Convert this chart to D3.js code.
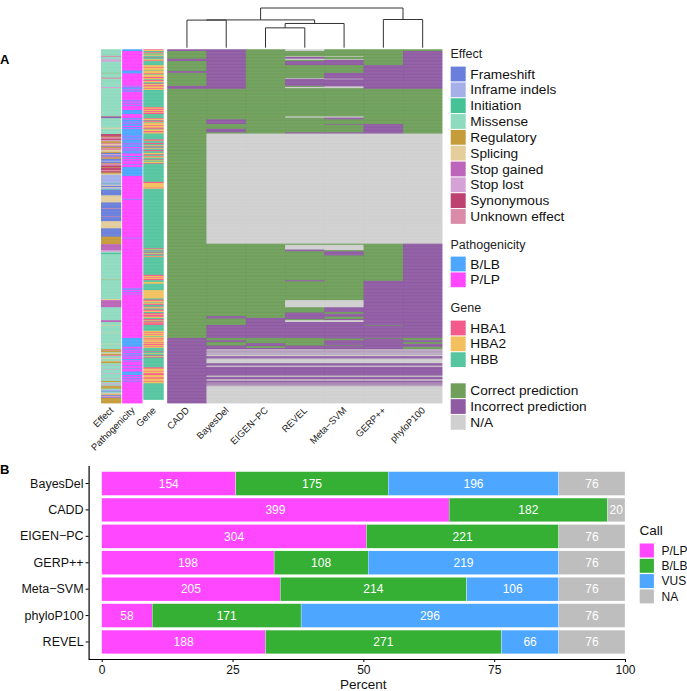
<!DOCTYPE html>
<html>
<head>
<meta charset="utf-8">
<script src="https://cdn.jsdelivr.net/npm/d3@7"></script>
<style>
  html, body { margin: 0; padding: 0; background: #fff; }
  svg { display: block; font-family: "Liberation Sans", Arial, sans-serif; }
  .axis path, .axis line { stroke: #000; }
</style>
</head>
<body>
<svg width="687" height="691"></svg>
<script>
// Panel A: values per column as flat run lists: code, number of rows, code, number of rows...
const totalRows = 601;

const annotationNames = ["Effect", "Pathogenicity", "Gene"];
const toolNames = ["CADD", "BayesDel", "EIGEN\u2212PC", "REVEL", "Meta\u2212SVM", "GERP++", "phyloP100"];

const effectRuns = [
  "M",11,"U",2,"M",4,"L",4,"M",19,"T",1,"S",1,"M",6,"U",2,"M",14,"L",2,"M",48,"Y",1,"F",1,"Y",1,"M",16,"S",2,"M",9,
  "Y",4,"R",1,"U",3,"Y",2,"L",2,"R",3,"U",2,"S",2,"U",2,"F",1,"R",2,"U",3,"S",3,"R",2,"F",2,"L",2,"F",2,"U",2,"R",2,
  "F",3,"I",2,"F",2,"R",1,"U",3,"G",1,"Y",2,"R",1,"Y",4,"U",2,"Y",2,"R",2,"S",2,"I",3,
  "I",12,"T",1,"I",2,"S",1,"F",2,"S",1,"I",3,"T",1,"F",9,"S",12,"F",10,"U",1,"F",12,"U",1,"F",8,"S",12,"F",14,"R",13,
  "G",10,"L",3,"M",2,"T",2,"M",42,"S",1,"T",1,"M",32,"S",2,"G",12,"M",22,"G",3,"M",5,"S",1,"M",12,"S",1,"M",18,"S",1,"M",8,
  "R",2,"U",1,"R",2,"M",1,"S",2,"R",2,"U",2,"M",3,"S",2,"M",3,"S",1,"R",3,"M",4,"L",1,"M",5,"L",1,"M",6,"L",1,"M",8,"L",1,
  "M",3,"R",2,"M",2,"L",2,"M",2,"U",1,"R",4,"M",2,"I",2,"F",1,"M",2,"I",1,"S",2,"R",1,"F",1,"I",1,"U",2,"F",1,"R",9
];
const pathogenicityRuns = [
  "B",3,"P",33,"B",5,"P",21,"B",1,"P",1,"B",1,"P",1,"B",2,"P",1,"B",1,"P",1,"B",1,"P",2,"P",12,"B",1,"P",2,"B",1,"P",2,"B",1,"P",2,"B",1,"P",1,
  "P",6,"B",7,"P",7,"B",2,"P",1,"B",3,"P",1,"B",2,"P",1,"B",3,"P",2,"B",2,"P",1,"B",2,"B",10,"P",1,"B",4,"P",1,"B",6,
  "P",1,"B",2,"P",1,"B",3,"P",2,"B",1,"P",1,"B",2,"P",1,"B",3,"P",1,"B",1,"P",3,"B",2,"P",2,"B",1,"P",3,"B",1,"P",5,"B",1,"P",4,
  "B",15,"P",39,"B",1,"P",65,"B",1,"P",85,"B",2,"P",3,"B",1,"P",3,"B",1,"P",1,"P",73,"B",15,"P",3,"B",2,"P",2,"B",1,"P",3,"B",2,
  "P",1,"B",1,"P",2,"B",1,"P",3,"B",2,"P",2,"B",1,"P",3,"P",2,"B",1,"P",4,"B",1,"P",5,"B",6,"P",2,"B",1,"P",2,"B",1,"P",2,"B",1,"P",2,"B",1,"P",36
];
const geneRuns = [
  "A",1,"C",2,"B",2,"A",1,"C",1,"B",2,"C",2,"B",3,"A",1,"B",2,"C",2,"A",1,"B",7,"C",3,"A",1,"C",4,"B",1,"C",5,"A",1,"B",1,"C",4,"A",2,"C",2,"B",1,"A",2,"C",2,
  "B",2,"A",1,"C",2,"A",2,"C",3,"A",1,"C",2,"B",29,"A",1,"C",2,"A",2,"C",2,"A",2,"C",1,"A",2,"B",7,"A",1,"C",2,"B",1,"A",2,"C",1,"B",1,"C",4,"A",1,"C",3,"A",2,"B",1,"C",3,"A",2,"C",2,
  "B",10,"A",2,"C",1,"B",3,"A",2,"B",2,"C",1,"A",1,"B",2,"A",1,"C",1,"B",2,"A",2,"B",3,"C",2,"A",1,"B",2,"A",1,"C",2,"B",3,"A",1,"C",1,"B",2,"C",2,"A",1,"B",1,
  "B",30,"A",2,"C",8,"A",1,"C",1,"B",101,"A",1,"C",1,"B",2,"A",1,"B",2,"A",1,"C",1,"B",1,"A",1,"B",2,"C",1,"A",1,"B",2,"B",28,"A",2,"C",2,"A",1,"C",2,"A",2,"B",3,"C",3,"B",2,
  "B",9,"C",14,"B",2,"A",2,"C",2,"B",1,"C",2,"A",2,"B",3,"A",1,"C",2,"B",2,"A",2,"C",2,"B",2,"A",2,"C",1,"A",3,"C",2,"B",2,"A",2,"C",1,"B",1,"A",2,"C",1,"A",3,
  "B",10,"C",2,"A",1,"C",3,"A",1,"C",2,"B",1,"C",2,"A",1,"C",2,"A",1,"C",3,"A",1,"C",2,"A",2,"C",2,"A",1,"C",2,"B",6,"A",1,"B",2,"C",1,"B",2,"A",1,"B",1,"C",1,"B",1,"A",1,
  "B",16,"A",2,"C",4,"A",1,"C",3,"A",3,"C",4,"A",2,"C",4,"A",1,"C",3,"B",28
];

// Shared stripes at the bottom of the tool columns, G correct, W incorrect, N missing
const tailRuns = [
  "N",1,"W",1,"N",1,"W",1,"N",2,"W",1,"N",1,"W",1,"N",2,"N",1,"W",1,"W",2,"N",1,"W",1,"N",1,"N",6,"W",4,"N",2,"W",15,"N",2,"W",4,
  "N",1,"W",1,"N",1,"W",3,"N",1,"W",1,"N",1,"W",1,"N",1,"W",1,"N",29
];
const caddRuns = ["W",3,"G",13,"W",4,"G",17,"W",3,"G",22,"W",5,"G",423,"W",111];
const bayesDelRuns = ["W",67,"G",52,"W",8,"G",8,"W",6,"G",2,"N",187,"G",123,"W",4,"G",11,"W",22,"G",4,"W",3,"G",6,"W",6, ...tailRuns];
const eigenRuns = ["G",143,"N",187,"G",126,"W",34,"G",9,"W",5,"G",3,"W",2, ...tailRuns];
const revelRuns = [
  "N",3,"G",9,"N",1,"W",3,"N",2,"G",2,"W",7,"G",22,"N",1,"W",12,"G",2,"N",2,"G",48,"N",2,"G",25,"W",2,"N",187,
  "G",2,"N",8,"W",3,"G",49,"W",2,"G",32,"N",12,"G",9,"W",11,"G",2,"N",3,"W",27,"G",13,"W",6, ...tailRuns
];
const metaRuns = [
  "G",12,"N",1,"G",4,"N",1,"W",9,"G",13,"W",10,"N",1,"W",12,"N",3,"G",48,"N",2,"W",3,"G",8,"W",1,"G",13,"W",2,"N",187,
  "G",2,"N",9,"G",2,"W",7,"G",76,"N",12,"W",8,"G",3,"W",5,"G",4,"W",2,"N",3,"W",28,"G",3,"W",8,"G",1,"W",6, ...tailRuns
];
const gerpRuns = ["G",27,"W",40,"G",60,"W",16,"N",187,"G",63,"W",75,"G",1,"W",21,"G",1,"W",18, ...tailRuns];
const phylopRuns = ["G",3,"W",64,"G",76,"N",187,"W",160,"G",4,"W",3,"G",3,"W",5,"G",4, ...tailRuns];

// Dendrogram merges: left and right are tool names or earlier merges
const mergeHeights = [
  ["m1", toolNames[2], toolNames[3], 0.5],
  ["m2", "m1", toolNames[4], 0.61],
  ["m3", toolNames[0], toolNames[1], 0.695],
  ["m4", "m3", "m2", 0.70],
  ["m5", toolNames[5], toolNames[6], 0.71],
  ["root", "m4", "m5", 1]
];

// Legends
const effectLabels = ["Frameshift", "Inframe indels", "Initiation", "Missense", "Regulatory", "Splicing", "Stop gained", "Stop lost", "Synonymous", "Unknown effect"];
const effectCodes = ["F", "I", "T", "M", "R", "S", "G", "L", "Y", "U"];
const effectColors = ["#6a7fdb", "#a5b0e8", "#45c296", "#8fdbc0", "#c69c3b", "#e3ce9c", "#bc65ba", "#d5a2d6", "#be4270", "#da8ba8"];
const pathLabels = ["B/LB", "P/LP"];
const pathColors = ["#4da6ff", "#ff47ff"];
const geneLabels = ["HBA1", "HBA2", "HBB"];
const geneColors = ["#f45b8d", "#f2c05f", "#56c5a0"];
const predictionLabels = ["Correct prediction", "Incorrect prediction", "N/A"];
const predictionColors = ["#6f9f5b", "#8f5ca3", "#d0d0d0"];

// Panel B
const barTools = ["BayesDel", "CADD", "EIGEN\u2212PC", "GERP++", "Meta\u2212SVM", "phyloP100", "REVEL"];
const callNames = ["P/LP", "B/LB", "VUS", "NA"];
const callColors = ["#ff47ff", "#35b035", "#4da6ff", "#bebebe"];
const plpCounts = [154, 399, 304, 198, 205, 58, 188];
const blbCounts = [175, 182, 221, 108, 214, 171, 271];
const vusCounts = [196, 0, 0, 219, 106, 296, 66];
const naCounts = [76, 20, 76, 76, 76, 76, 76];
const percentTicks = [0, 25, 50, 75, 100];

const svg = d3.select("svg");

// Turn a flat run list into one code per row
function expandRuns(runs) {
  const rows = [];
  for (let i = 0; i < runs.length; i += 2) {
    for (let k = 0; k < runs[i + 1]; k++) rows.push(runs[i]);
  }
  return rows;
}

// ---- Panel A ----
const rowY = d3.scaleLinear().domain([0, totalRows]).range([49.3, 403.3]);
const annX = d3.scaleBand().domain(annotationNames).range([101, 163.6]).paddingInner(0.05);
const toolX = d3.scaleBand().domain(toolNames).range([167.3, 442.3]);

const effectColor = d3.scaleOrdinal(effectCodes, effectColors);
const pathColor = d3.scaleOrdinal(["B", "P"], pathColors);
const geneColor = d3.scaleOrdinal(["A", "C", "B"], geneColors);
const predictionColor = d3.scaleOrdinal(["G", "W", "N"], predictionColors);

// Rows overlap a little so the white page does not show through the seams
function drawColumn(parent, runs, x, w, color) {
  const rows = expandRuns(runs);
  parent.append("g")
    .selectAll("rect")
    .data(rows)
    .join("rect")
    .attr("x", x)
    .attr("y", (d, i) => rowY(i))
    .attr("width", w)
    .attr("height", (d, i) => rowY(1) - rowY(0) + (i < rows.length - 1 ? 0.45 : 0))
    .attr("fill", d => color(d));
}

const heat = svg.append("g");
drawColumn(heat, effectRuns, annX("Effect"), annX.bandwidth(), effectColor);
drawColumn(heat, pathogenicityRuns, annX("Pathogenicity"), annX.bandwidth(), pathColor);
drawColumn(heat, geneRuns, annX("Gene"), annX.bandwidth(), geneColor);

// Same for the tool columns, each one runs slightly under the next
[caddRuns, bayesDelRuns, eigenRuns, revelRuns, metaRuns, gerpRuns, phylopRuns].forEach((runs, i) => {
  const w = toolX.bandwidth() + (i < toolNames.length - 1 ? 0.6 : 0);
  drawColumn(heat, runs, toolX(toolNames[i]), w, predictionColor);
});

// Column labels
const colLabels = annotationNames.map(n => ({ name: n, x: annX(n) + annX.bandwidth() / 2 + 3 }))
  .concat(toolNames.map(n => ({ name: n, x: toolX(n) + toolX.bandwidth() / 2 + 3 })));
svg.append("g")
  .selectAll("text")
  .data(colLabels)
  .join("text")
  .attr("transform", d => `translate(${d.x},411) rotate(-45)`)
  .attr("text-anchor", "end")
  .attr("font-size", 9.5)
  .attr("fill", "#222")
  .text(d => d.name);

// Dendrogram
const heightY = d3.scaleLinear().domain([0, 1]).range([47.7, 8]);
const dendroNodes = {};
toolNames.forEach(n => { dendroNodes[n] = { x: toolX(n) + toolX.bandwidth() / 2, h: 0 }; });
const dendro = svg.append("g").attr("fill", "none").attr("stroke", "#333").attr("stroke-width", 1);
mergeHeights.forEach(([name, left, right, h]) => {
  const a = dendroNodes[left];
  const b = dendroNodes[right];
  const path = d3.path();
  path.moveTo(a.x, heightY(a.h));
  path.lineTo(a.x, heightY(h));
  path.lineTo(b.x, heightY(h));
  path.lineTo(b.x, heightY(b.h));
  dendro.append("path").attr("d", path.toString());
  dendroNodes[name] = { x: (a.x + b.x) / 2, h: h };
});

// Legends on the right of the heatmap
function drawLegend(title, labels, colors, titleBase, firstTop) {
  const legend = svg.append("g");
  if (title) {
    legend.append("text").attr("x", 450.5).attr("y", titleBase)
      .attr("font-size", 12.5).attr("fill", "#222").text(title);
  }
  const row = legend.selectAll("g")
    .data(labels)
    .join("g")
    .attr("transform", (d, i) => `translate(450.7,${firstTop + i * 15.83})`);
  row.append("rect").attr("width", 15).attr("height", 14.8).attr("fill", (d, i) => colors[i]);
  row.append("text").attr("x", 19.6).attr("y", 12)
    .attr("font-size", 13.7).attr("fill", "#111").text(d => d);
}
drawLegend("Effect", effectLabels, effectColors, 58, 66.6);
drawLegend("Pathogenicity", pathLabels, pathColors, 248.5, 256.6);
drawLegend("Gene", geneLabels, geneColors, 311.5, 320.6);
drawLegend(null, predictionLabels, predictionColors, 0, 383.3);

// Panel letters
svg.append("text").attr("x", 0).attr("y", 64).attr("font-size", 13).attr("font-weight", "bold").text("A");
svg.append("text").attr("x", 0).attr("y", 474).attr("font-size", 13).attr("font-weight", "bold").text("B");

// ---- Panel B ----
const x = d3.scaleLinear().domain([0, 100]).range([101.7, 625]);
const y = d3.scaleBand().domain(barTools).range([469, 656.5]).padding(0.1);

const barRows = barTools.map((tool, i) => ({
  tool: tool,
  "P/LP": plpCounts[i],
  "B/LB": blbCounts[i],
  "VUS": vusCounts[i],
  "NA": naCounts[i]
}));
const callColor = d3.scaleOrdinal(callNames, callColors);
const stacked = d3.stack().keys(callNames).value((d, key) => d[key] / totalRows * 100)(barRows);

const layers = svg.append("g")
  .selectAll("g")
  .data(stacked)
  .join("g")
  .attr("fill", d => callColor(d.key));

layers.selectAll("rect")
  .data(d => d)
  .join("rect")
  .attr("x", d => x(d[0]))
  .attr("y", d => y(d.data.tool))
  .attr("width", d => x(d[1]) - x(d[0]))
  .attr("height", y.bandwidth())
  .attr("stroke", "#fff")
  .attr("stroke-width", 0.3);

// Counts inside the segments, zero segments get no label
layers.selectAll("text")
  .data(d => d.map(s => ({ s: s, n: s.data[d.key] })).filter(v => v.n > 0))
  .join("text")
  .attr("x", d => x((d.s[0] + d.s[1]) / 2))
  .attr("y", d => y(d.s.data.tool) + y.bandwidth() / 2)
  .attr("dy", "0.36em")
  .attr("text-anchor", "middle")
  .attr("font-size", 12)
  .attr("fill", "#fff")
  .text(d => d.n);

// Axes
const xAxis = svg.append("g")
  .attr("class", "axis")
  .attr("transform", "translate(0,659)")
  .call(d3.axisBottom(x).tickValues(percentTicks).tickSize(3).tickSizeOuter(0));
xAxis.select(".domain").attr("d", `M88.6,0.5H${x(100)}`).attr("stroke-width", 1.2);
xAxis.selectAll("text").attr("font-size", 12).attr("font-family", "inherit").attr("fill", "#111").attr("y", 6);

const yAxis = svg.append("g")
  .attr("class", "axis")
  .attr("transform", "translate(88.6,0)")
  .call(d3.axisLeft(y).tickSize(3).tickSizeOuter(0));
yAxis.select(".domain").attr("d", "M0.5,466V659.6").attr("stroke-width", 1.2);
yAxis.selectAll("text").attr("font-size", 12.5).attr("font-family", "inherit").attr("fill", "#111").attr("x", -5);

svg.append("text")
  .attr("x", x(50))
  .attr("y", 688.5)
  .attr("text-anchor", "middle")
  .attr("font-size", 13.5)
  .attr("fill", "#111")
  .text("Percent");

// Call legend
const callLegend = svg.append("g");
callLegend.append("text").attr("x", 639.6).attr("y", 534.5).attr("font-size", 13.5).attr("fill", "#111").text("Call");
const callRow = callLegend.selectAll("g")
  .data(callNames)
  .join("g")
  .attr("transform", (d, i) => `translate(639.7,${543.5 + i * 15.3})`);
callRow.append("rect").attr("width", 14.2).attr("height", 14).attr("fill", d => callColor(d));
callRow.append("text").attr("x", 21.8).attr("y", 11.3).attr("font-size", 12).attr("fill", "#111").text(d => d);
</script>
</body>
</html>
